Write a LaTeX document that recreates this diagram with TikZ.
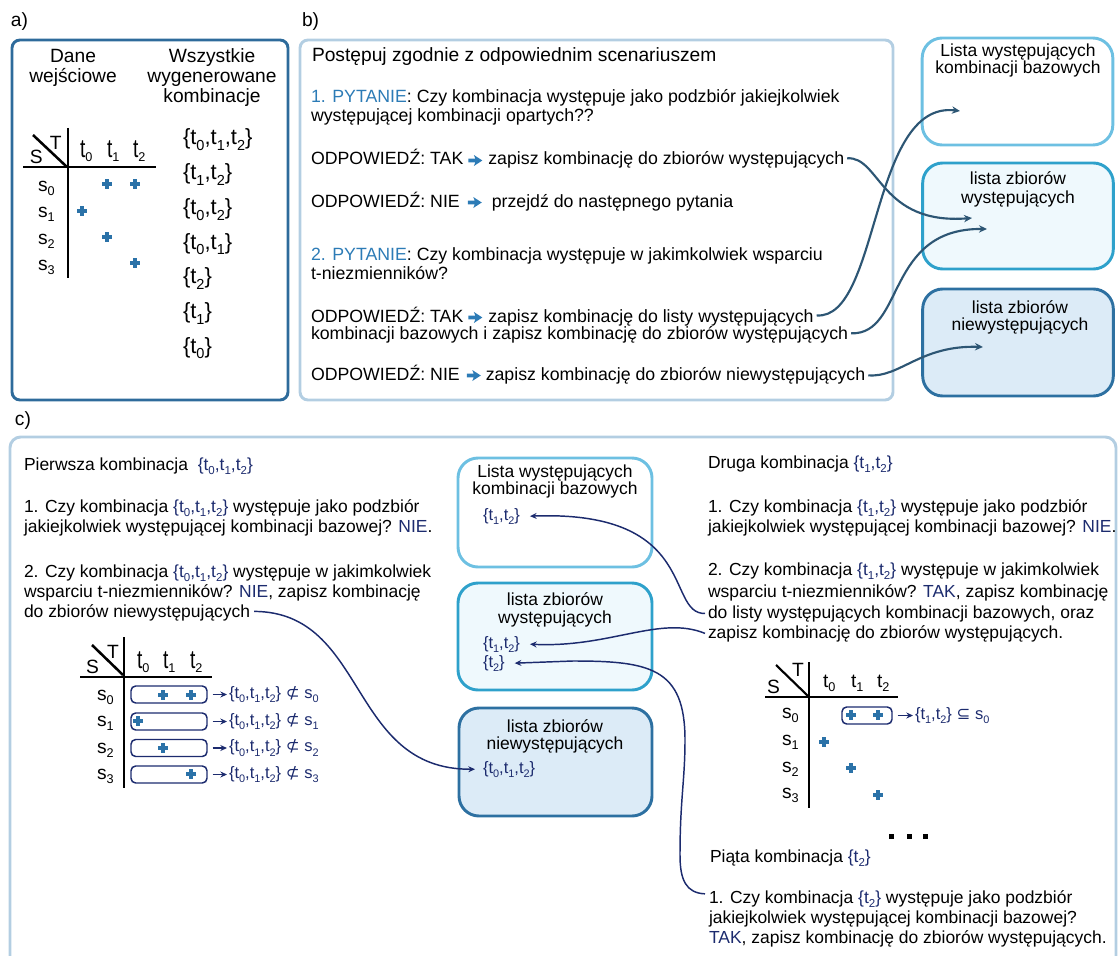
\documentclass[tikz,border=0pt]{standalone}
\usepackage{fontspec}
\usepackage{graphicx}
\setmainfont{Liberation Sans}
\newfontfamily\symfont{DejaVu Sans}
\usetikzlibrary{arrows.meta,calc}

\definecolor{navy}{HTML}{1C2B6E}
\definecolor{qblue}{HTML}{2C7BB6}
\definecolor{plusblue}{HTML}{2B72A8}
\definecolor{frameA}{HTML}{2E6B9B}
\definecolor{frameB}{HTML}{B3CEE2}
\definecolor{boxAline}{HTML}{6DC0E2}
\definecolor{boxBline}{HTML}{2EA1CB}
\definecolor{boxBfill}{HTML}{EFF9FD}
\definecolor{boxCline}{HTML}{2D70A1}
\definecolor{boxCfill}{HTML}{DCEBF7}
\definecolor{flowline}{HTML}{2D5674}

% subscripts and set notation
\newcommand{\tsub}[1]{\raisebox{-0.26em}{\scalebox{0.66}{#1}}}
\newcommand{\tallt}{\scalebox{1}[1.35]{t}}
\newcommand{\Sabc}{\{t\tsub0,t\tsub1,t\tsub2\}}
\newcommand{\Sbc}{\{t\tsub1,t\tsub2\}}
\newcommand{\Sc}{\{t\tsub2\}}
\newcommand{\nv}[1]{\textcolor{navy}{#1}}

\begin{document}
\begin{tikzpicture}[x=0.75pt,y=-0.75pt,
  txt/.style={inner sep=0pt,outer sep=0pt,anchor=base west,font=\fontsize{13.1}{15}\selectfont},
  txtb/.style={txt,font=\fontsize{13.3}{15}\selectfont},
  ctr/.style={txt,anchor=base},
  head/.style={font=\fontsize{14.4}{17}\selectfont},
  combo/.style={font=\fontsize{16.5}{19}\selectfont},
  setf/.style={text=navy,font=\fontsize{12.4}{15}\selectfont},
  tbl/.style={line width=1.9pt,black},
  panelA/.style={draw=frameA,line width=2.2pt,rounded corners=6pt},
  panelB/.style={draw=frameB,line width=2.2pt,rounded corners=6pt},
  listbox/.style={inner sep=0pt,line width=2.2pt,rounded corners=15pt,minimum width=143pt},
  boxA/.style={listbox,draw=boxAline,fill=white},
  boxB/.style={listbox,draw=boxBline,fill=boxBfill},
  boxC/.style={listbox,draw=boxCline,fill=boxCfill},
  rowbox/.style={draw=navy,line width=1.1pt,rounded corners=3.5pt,minimum width=57pt,minimum height=12.75pt,inner sep=0pt},
  barr/.style={draw=flowline,line width=1.6pt,-{Stealth[length=6pt,width=5.5pt]}},
  carr/.style={draw=navy,line width=1.1pt,-{Stealth[length=5pt,width=4.5pt]}},
  plus/.pic={\draw[plusblue,line width=2.3pt] (-5,0)--(5,0) (0,-5)--(0,5);},
  tagarrow/.pic={\fill[qblue] (0,-1.8) -- (7,-1.8) -- (5.5,-5.5) -- (14,0) -- (5.5,5.5) -- (7,1.8) -- (0,1.8) -- cycle;}
]
\useasboundingbox (0,0) rectangle (1118,956);

%% ---------- a) ----------
\node[txt,head] (la) at (11,27) {a)};
\draw[panelA] (12,40) rectangle (288,400);
\node[ctr,head] (a1) at (73,63) {Dane};
\node[ctr,head] (a2) at (73,83) {wejściowe};
\node[ctr,head] (a3) at (212,63) {Wszystkie};
\node[ctr,head] (a4) at (212,83) {wygenerowane};
\node[ctr,head] (a5) at (212,103) {kombinacje};

\draw[tbl] (68,128) -- (68,278);
\draw[tbl] (23,167) -- (156,167);
\draw[tbl] (33,135) -- (67,167);
\node[txt,head] (aS) at (30,163) {S};
\node[txt,head] (aT) at (50,150) {T};
\node[txt,head] (at0) at (80,157) {\tallt\tsub0};
\node[txt,head] (at1) at (107,157) {\tallt\tsub1};
\node[txt,head] (at2) at (133,157) {\tallt\tsub2};
\node[txt,head] (as0) at (38,191) {s\tsub0};
\node[txt,head] (as1) at (38,217) {s\tsub1};
\node[txt,head] (as2) at (38,244) {s\tsub2};
\node[txt,head] (as3) at (38,270) {s\tsub3};
\pic at (107,184) {plus};
\pic at (135,184) {plus};
\pic at (82,211) {plus};
\pic at (107,237) {plus};
\pic at (135,263) {plus};

\node[txt,combo] (k1) at (183,145) {\Sabc};
\node[txt,combo] (k2) at (183,179.7) {\Sbc};
\node[txt,combo] (k3) at (183,214.4) {\{t\tsub0,t\tsub2\}};
\node[txt,combo] (k4) at (183,249.1) {\{t\tsub0,t\tsub1\}};
\node[txt,combo] (k5) at (183,283.8) {\Sc};
\node[txt,combo] (k6) at (183,318.5) {\{t\tsub1\}};
\node[txt,combo] (k7) at (183,353.2) {\{t\tsub0\}};

%% ---------- b) ----------
\node[txt,head] (lb) at (302,27) {b)};
\draw[panelB] (300,40) rectangle (893,400);
\node[txt,head] (bt) at (312,62) {Postępuj zgodnie z odpowiednim scenariuszem};
\node[txtb] (b1) at (311,103) {\textcolor{qblue}{1. PYTANIE}: Czy kombinacja występuje jako podzbiór jakiejkolwiek};
\node[txtb] (b2) at (311,122) {występującej kombinacji opartych??};
\node[txtb] (b3a) at (311,165) {ODPOWIEDŹ: TAK};
\pic at ($(b3a.base east)+(5,-4.5)$) {tagarrow};
\node[txtb] (b3b) at ($(b3a.base east)+(25,0)$) {zapisz kombinację do zbiorów występujących};
\node[txtb] (b4a) at (311,207) {ODPOWIEDŹ: NIE};
\pic at ($(b4a.base east)+(8,-4.5)$) {tagarrow};
\node[txtb] (b4b) at ($(b4a.base east)+(32,0)$) {przejdź do następnego pytania};
\node[txtb] (b5) at (311,260) {\textcolor{qblue}{2. PYTANIE}: Czy kombinacja występuje w jakimkolwiek wsparciu};
\node[txtb] (b6) at (311,279) {t-niezmienników?};
\node[txtb] (b7a) at (311,322) {ODPOWIEDŹ: TAK};
\pic at ($(b7a.base east)+(5,-4.5)$) {tagarrow};
\node[txtb] (b7b) at ($(b7a.base east)+(25,0)$) {zapisz kombinację do listy występujących};
\node[txtb] (b8) at (311,339) {kombinacji bazowych i zapisz kombinację do zbiorów występujących};
\node[txtb] (b9a) at (311,380) {ODPOWIEDŹ: NIE};
\pic at ($(b9a.base east)+(7,-4.5)$) {tagarrow};
\node[txtb] (b9b) at ($(b9a.base east)+(26,0)$) {zapisz kombinację do zbiorów niewystępujących};

\node[boxA,minimum height=80.25pt] (B1) at (1017.5,91.5) {};
\node[ctr] (B1a) at (1018,57) {Lista występujących};
\node[ctr] (B1b) at (1018,74) {kombinacji bazowych};
\node[boxB,minimum height=79.5pt] (B2) at (1018,216) {};
\node[ctr] (B2a) at (1018,185) {lista zbiorów};
\node[ctr] (B2b) at (1018,203) {występujących};
\node[boxC,minimum height=80.25pt] (B3) at (1018,342.5) {};
\node[ctr] (B3a) at (1020,313) {lista zbiorów};
\node[ctr] (B3b) at (1020,330) {niewystępujących};

\coordinate (B1in) at (960,111);
\coordinate (B2inA) at (972,218);
\coordinate (B2inB) at (987,229);
\coordinate (B3in) at (983,347);

\draw[barr] ($(b3b.east)+(3,-2)$) .. controls (880,156) and (880,225) .. (B2inA);
\draw[barr] ($(b7b.east)+(3,-2)$) .. controls (880,320) and (870,100) .. (B1in);
\draw[barr] ($(b8.east)+(3,-1)$) .. controls (905,335) and (885,228) .. (B2inB);
\draw[barr] ($(b9b.east)+(3,0)$) .. controls (900,378) and (920,345) .. (B3in);

%% ---------- c) ----------
\node[txt,head] (lc) at (15,425) {c)};
\draw[panelB,rounded corners=8pt] (10,437) rectangle (1116,1000);

% first combination
\node[txt] (p0) at (24,470) {Pierwsza kombinacja\ \ \nv{\Sabc}};
\node[txt] (p1) at (24,512) {1. Czy kombinacja \nv{\Sabc} występuje jako podzbiór};
\node[txt] (p2) at (24,532) {jakiejkolwiek występującej kombinacji bazowej? \nv{NIE}.};
\node[txt] (p3) at (24,577) {2. Czy kombinacja \nv{\Sabc} występuje w jakimkolwiek};
\node[txt] (p4) at (24,597) {wsparciu t-niezmienników? \nv{NIE}, zapisz kombinację};
\node[txt] (p5) at (24,617) {do zbiorów niewystępujących};

\draw[tbl] (124,637) -- (124,788);
\draw[tbl] (80,677) -- (212,677);
\draw[tbl] (92,645) -- (123,675);
\node[txt,head] (cS) at (86,673) {S};
\node[txt,head] (cT) at (107,658) {T};
\node[txt,head] (ct0) at (137,668) {\tallt\tsub0};
\node[txt,head] (ct1) at (163,668) {\tallt\tsub1};
\node[txt,head] (ct2) at (190,668) {\tallt\tsub2};
\node[txt,head] (cs0) at (97,700) {s\tsub0};
\node[txt,head] (cs1) at (97,726) {s\tsub1};
\node[txt,head] (cs2) at (97,753) {s\tsub2};
\node[txt,head] (cs3) at (97,779) {s\tsub3};

\node[rowbox] (r0) at (169,694.5) {};
\node[rowbox] (r1) at (169,721.5) {};
\node[rowbox] (r2) at (169,748) {};
\node[rowbox] (r3) at (169,774.5) {};
\pic at (163,695) {plus};
\pic at (191,695) {plus};
\pic at (138,721) {plus};
\pic at (163,748) {plus};
\pic at (191,774) {plus};
\node[txt,setf,anchor=west] (n0) at (229,694.5) {\Sabc\ {\symfont ⊄} s\tsub0};
\node[txt,setf,anchor=west] (n1) at (229,721.5) {\Sabc\ {\symfont ⊄} s\tsub1};
\node[txt,setf,anchor=west] (n2) at (229,748) {\Sabc\ {\symfont ⊄} s\tsub2};
\node[txt,setf,anchor=west] (n3) at (229,774.5) {\Sabc\ {\symfont ⊄} s\tsub3};
\foreach \i in {0,1,2,3}
  \draw[carr] ($(r\i.east)+(5,0)$) -- ($(n\i.west)+(-2,0)$);

% lists in the middle
\node[boxA,minimum width=145.5pt,minimum height=81.75pt] (M1) at (555,512.5) {};
\node[ctr] (M1a) at (555,477) {Lista występujących};
\node[ctr] (M1b) at (555,494) {kombinacji bazowych};
\node[txt,setf] (m1s) at (483,520) {\Sbc};
\node[boxB,minimum width=145.5pt,minimum height=80.25pt] (M2) at (555,636.5) {};
\node[ctr] (M2a) at (555,605) {lista zbiorów};
\node[ctr] (M2b) at (555,623) {występujących};
\node[txt,setf] (m2s1) at (483,648) {\Sbc};
\node[txt,setf] (m2s2) at (483,667) {\Sc};
\node[boxC,minimum width=144.75pt,minimum height=81pt] (M3) at (555.5,762) {};
\node[ctr] (M3a) at (555,732) {lista zbiorów};
\node[ctr] (M3b) at (555,749) {niewystępujących};
\node[txt,setf] (m3s) at (483,773) {\Sabc};

\draw[carr] ($(p5.east)+(4,-1)$) .. controls (368,612) and (348,770) .. ($(m3s.west)+(-8,0)$);

% second combination
\node[txt] (q0) at (708,468) {Druga kombinacja \nv{\Sbc}};
\node[txt] (q1) at (708,512) {1. Czy kombinacja \nv{\Sbc} występuje jako podzbiór};
\node[txt] (q2) at (708,532) {jakiejkolwiek występującej kombinacji bazowej? \nv{NIE}.};
\node[txt] (q3) at (708,575) {2. Czy kombinacja \nv{\Sbc} występuje w jakimkolwiek};
\node[txt] (q4) at (708,597) {wsparciu t-niezmienników? \nv{TAK}, zapisz kombinację};
\node[txt] (q5) at (708,618) {do listy występujących kombinacji bazowych, oraz};
\node[txt] (q6) at (708,638) {zapisz kombinację do zbiorów występujących.};

\draw[carr] ($(q5.west)+(-3,0)$) .. controls (665,614) and (700,510) .. ($(m1s.east)+(10,0)$);
\draw[carr] ($(q6.west)+(-3,0)$) .. controls (660,615) and (610,648) .. ($(m2s1.east)+(10,0)$);

\draw[line width=1.6pt,black] (809,662) -- (809,808);
\draw[line width=1.6pt,black] (765,697) -- (898,697);
\draw[line width=1.6pt,black] (776,665) -- (808,696);
\node[txt,head] (dS) at (767,693) {S};
\node[txt,head] (dT) at (792,676) {T};
\node[txt,head] (dt0) at (823,687) {t\tsub0};
\node[txt,head] (dt1) at (851,687) {t\tsub1};
\node[txt,head] (dt2) at (877,687) {t\tsub2};
\node[txt,head] (ds0) at (782,718) {s\tsub0};
\node[txt,head] (ds1) at (782,745) {s\tsub1};
\node[txt,head] (ds2) at (782,772) {s\tsub2};
\node[txt,head] (ds3) at (782,798) {s\tsub3};
\node[rowbox,minimum width=37.5pt] (d0) at (867,715.5) {};
\pic at (851,715) {plus};
\pic at (878,715) {plus};
\pic at (824,742) {plus};
\pic at (851,768) {plus};
\pic at (878,795) {plus};
\node[txt,setf,anchor=west] (e0) at (915,715.5) {\Sbc\ {\symfont ⊆} s\tsub0};
\draw[carr] ($(d0.east)+(5,0)$) -- ($(e0.west)+(-2,0)$);

\fill (889,834) rectangle (894,839);
\fill (907,834) rectangle (912,839);
\fill (923,834) rectangle (928,839);

% fifth combination
\node[txt] (v0) at (710,862) {Piąta kombinacja \nv{\Sc}};
\node[txt] (v1) at (709,903) {1. Czy kombinacja \nv{\Sc} występuje jako podzbiór};
\node[txt] (v2) at (709,923) {jakiejkolwiek występującej kombinacji bazowej?};
\node[txt] (v3) at (709,943) {\nv{TAK}, zapisz kombinację do zbiorów występujących.};

\draw[carr] ($(v1.west)+(-4,-5)$) .. controls (686,893) and (680,880) .. (680,855)
  .. controls (680,800) and (685,780) .. (685,740)
  .. controls (685,668) and (650,661) .. (573,661) -- ($(m2s2.east)+(10,0)$);
\end{tikzpicture}
\end{document}
